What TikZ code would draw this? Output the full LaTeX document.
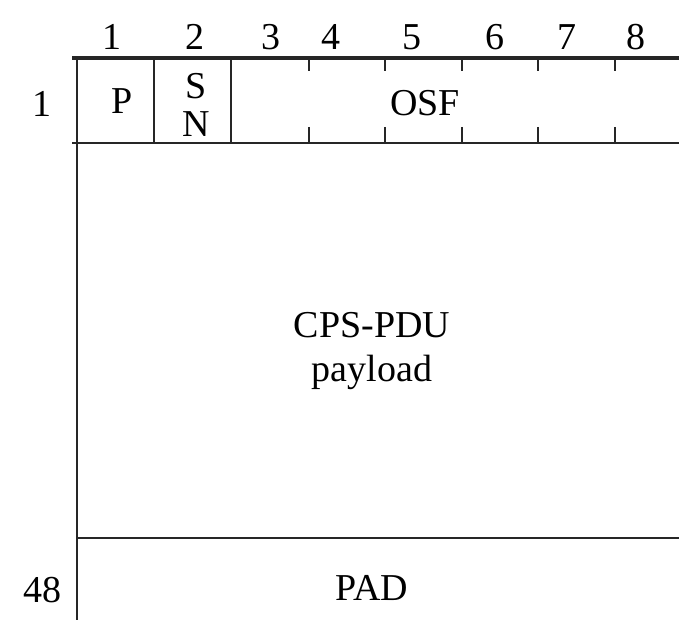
\documentclass[tikz,border=0pt]{standalone}
\usepackage{fontspec}
\setmainfont{Liberation Serif}
\begin{document}
\begin{tikzpicture}[x=1pt,y=-1pt,
  lbl/.style={font=\fontsize{38}{40}\selectfont, inner sep=0pt, anchor=center},
  thin/.style={line width=1.7pt, black!85},
  thick/.style={line width=4.5pt, black!85},
  tick/.style={line width=1.7pt, black!85}]
\useasboundingbox (0,0) rectangle (679,620);
% column headers
\node[lbl] (h1) at (112,37) {1};
\node[lbl] (h2) at (195,37) {2};
\node[lbl] (h3) at (271,37) {3};
\node[lbl] (h4) at (331,37) {4};
\node[lbl] (h5) at (412,37) {5};
\node[lbl] (h6) at (495,37) {6};
\node[lbl] (h7) at (567,37) {7};
\node[lbl] (h8) at (636,37) {8};
% row labels
\node[lbl] (r1) at (42,104) {1};
\node[lbl] (r48) at (42,590) {48};
% lines
\draw[thin] (77,58) -- (77,620);
\draw[thick] (72,58) -- (679,58);
\draw[thin] (72,143) -- (679,143);
\draw[thin] (154,58) -- (154,143);
\draw[thin] (231,58) -- (231,143);
\foreach \x in {309,385,462,538,615} {
  \draw[tick] (\x,58) -- (\x,71);
  \draw[tick] (\x,127) -- (\x,143);
}
\draw[thin] (77,538) -- (679,538);
% field labels
\node[lbl] (p) at (122,101) {P};
\node[lbl] (s) at (196,86) {S};
\node[lbl] (n) at (196,124) {N};
\node[lbl] (osf) at (425,103) {OSF};
\node[lbl] (cps) at (372,325) {CPS-PDU};
\node[lbl] (pay) at (372,372) {payload};
\node[lbl] (pad) at (372,588) {PAD};
\end{tikzpicture}
\end{document}
